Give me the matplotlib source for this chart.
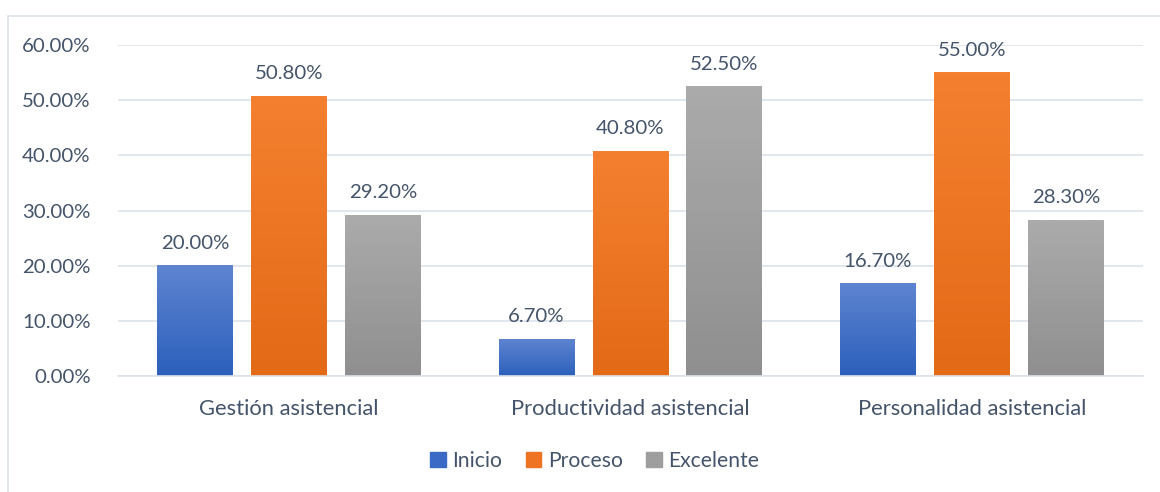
import matplotlib.pyplot as plt
import matplotlib.patches as mpatches
from matplotlib.colors import LinearSegmentedColormap
from matplotlib.ticker import FuncFormatter
import numpy as np

plt.rcParams['font.family'] = ['Lato', 'DejaVu Sans']

categories = ['Gestión asistencial', 'Productividad asistencial', 'Personalidad asistencial']
series = ['Inicio', 'Proceso', 'Excelente']
inicio = [20.0, 6.7, 16.7]
proceso = [50.8, 40.8, 55.0]
excelente = [29.2, 52.5, 28.3]
values = [inicio, proceso, excelente]

# (top colour, bottom colour) for the Excel-like gradient
grads = [('#5E84D0', '#2C60BC'), ('#F4802F', '#E36A17'), ('#ABABAB', '#8F8F8F')]
solid = ['#4472C4', '#ED7D31', '#A5A5A5']
text_col = '#44546A'
grid_col = '#DDE2EA'
fs = 14.7

fig = plt.figure(figsize=(11.6, 4.92), dpi=100)
ax = fig.add_axes([0.102, 0.236, 0.883, 0.672])

# chart border
fig.add_artist(mpatches.Rectangle((8 / 1160, -0.1), 1.2, 1 - 16 / 492 + 0.1,
                                  transform=fig.transFigure, fill=False,
                                  edgecolor=grid_col, linewidth=1.2))

x = np.arange(len(categories))
width = 0.222
step = 0.275

for i, (name, vals) in enumerate(zip(series, values)):
    bars = ax.bar(x + (i - 1) * step, vals, width, color=solid[i], label=name, zorder=2)
    cmap = LinearSegmentedColormap.from_list(name, [grads[i][1], grads[i][0]])
    for b, v in zip(bars, vals):
        b.set_facecolor('none')
        b.set_edgecolor('none')
        x0, w, h = b.get_x(), b.get_width(), b.get_height()
        ax.imshow(np.linspace(0, 1, 100).reshape(-1, 1), cmap=cmap,
                  extent=[x0, x0 + w, 0, h], origin='lower',
                  aspect='auto', zorder=2)
        ax.text(x0 + w / 2, h + 2.5, f'{v:.2f}%', ha='center', va='bottom',
                fontsize=fs, color=text_col)

ax.set_xlim(-0.5, 2.5)
ax.set_ylim(0, 60)
ax.set_yticks(np.arange(0, 61, 10))
ax.yaxis.set_major_formatter(FuncFormatter(lambda v, p: f'{v:.2f}%'))
ax.set_xticks(x)
ax.set_xticklabels(categories)
ax.tick_params(axis='both', length=0, labelsize=fs, colors=text_col)
ax.tick_params(axis='y', pad=20)
ax.tick_params(axis='x', labelsize=15.8, pad=17)
ax.grid(axis='y', color=grid_col, linewidth=1.2, zorder=0)
ax.set_axisbelow(True)
for s in ['top', 'right', 'left']:
    ax.spines[s].set_visible(False)
ax.spines['bottom'].set_color(grid_col)
ax.spines['bottom'].set_linewidth(1.2)

handles = [mpatches.Patch(color=c) for c in ['#3A69C6', '#EE7424', '#9E9E9E']]
ax.legend(handles, series, loc='upper center', bbox_to_anchor=(0.465, -0.17),
          ncol=3, frameon=False, fontsize=15.2, labelcolor=text_col,
          handlelength=0.75, handleheight=0.75, handletextpad=0.3, columnspacing=1.1)

fig.savefig('out.png', dpi=100)
